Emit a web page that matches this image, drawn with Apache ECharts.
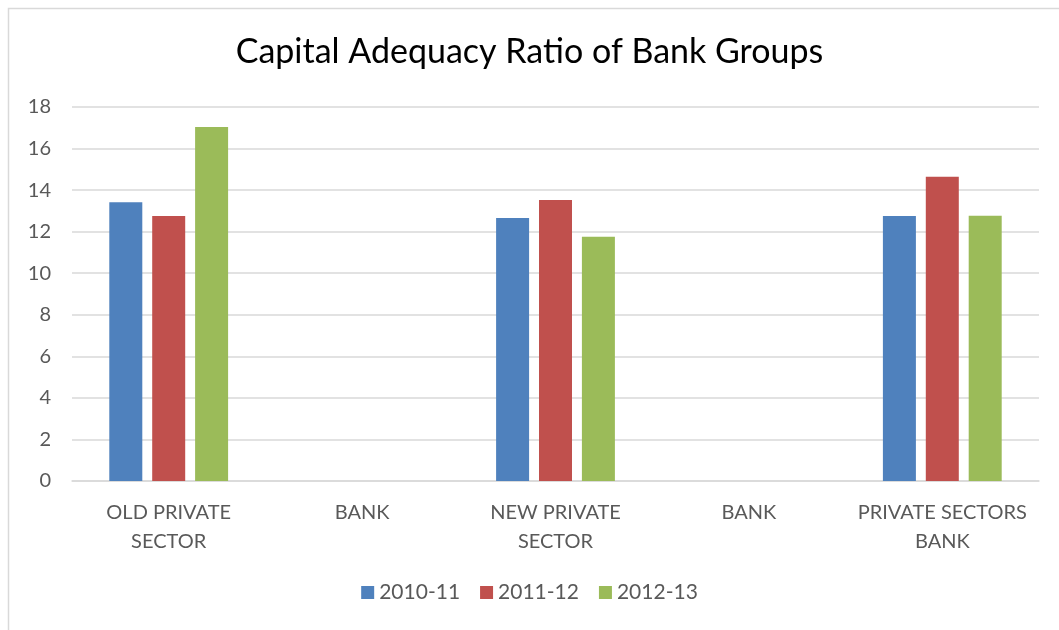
<!DOCTYPE html>
<html>
<head>
<meta charset="utf-8">
<script src="https://cdn.jsdelivr.net/npm/echarts@6/dist/echarts.min.js"></script>
<style>
  html, body { margin: 0; padding: 0; background: #fff; }
  #chart { width: 1059px; height: 630px; }
</style>
</head>
<body>
<div id="chart"></div>
<script>
// Bank group categories (the empty "BANK" slots carry no bars)
const categories = ['OLD PRIVATE\nSECTOR', 'BANK', 'NEW PRIVATE\nSECTOR', 'BANK', 'PRIVATE SECTORS\nBANK'];
const seriesNames = ['2010-11', '2011-12', '2012-13'];
const values2010 = [13.41, null, 12.66, null, 12.75];
const values2011 = [12.75, null, 13.53, null, 14.64];
const values2012 = [17.04, null, 11.76, null, 12.77];
const colors = ['#4f81bd', '#c0504d', '#9bbb59'];
const yTicks = { min: 0, max: 18, interval: 2 };

const font = 'Lato, "Open Sans", sans-serif';
const allValues = [values2010, values2011, values2012];

const chart = echarts.init(document.getElementById('chart'));
chart.setOption({
  animation: false,
  backgroundColor: '#fff',
  title: {
    text: 'Capital Adequacy Ratio of Bank Groups',
    left: 'center',
    top: 30,
    textStyle: { fontFamily: font, fontSize: 34, fontWeight: 'normal', color: '#000' }
  },
  graphic: [{
    type: 'rect',
    shape: { x: 8.5, y: 8.5, width: 1070, height: 640 },
    style: { fill: 'none', stroke: '#d9d9d9', lineWidth: 1.5 },
    silent: true
  }],
  legend: {
    bottom: 22,
    left: 'center',
    itemWidth: 13,
    itemHeight: 13,
    itemGap: 20,
    icon: 'rect',
    textStyle: { fontFamily: font, fontSize: 21, color: '#595959' },
    data: seriesNames
  },
  grid: { left: 72, right: 20, top: 107, bottom: 149, containLabel: false },
  xAxis: {
    type: 'category',
    data: categories,
    axisLine: { lineStyle: { color: '#d9d9d9', width: 1.5 } },
    axisTick: { show: false },
    axisLabel: {
      fontFamily: font, fontSize: 20, color: '#595959',
      lineHeight: 29, margin: 17, interval: 0
    }
  },
  yAxis: {
    type: 'value',
    min: yTicks.min,
    max: yTicks.max,
    interval: yTicks.interval,
    axisLine: { show: false },
    axisTick: { show: false },
    splitLine: { lineStyle: { color: '#d9d9d9', width: 1.5 } },
    axisLabel: { fontFamily: font, fontSize: 20, color: '#595959', margin: 21 }
  },
  series: seriesNames.map((name, i) => ({
    name: name,
    type: 'bar',
    data: allValues[i],
    barWidth: 33,
    barGap: '30%',
    itemStyle: { color: colors[i] }
  }))
});
</script>
</body>
</html>
